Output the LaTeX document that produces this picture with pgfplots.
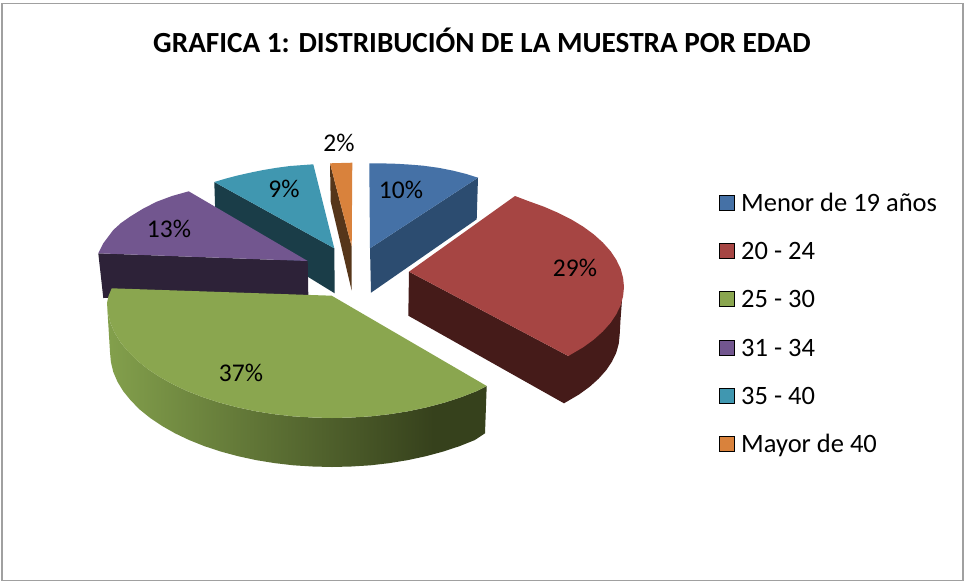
\documentclass[border=0pt]{standalone}
\usepackage{pgfplots}
\pgfplotsset{compat=1.18}
\usepackage{fontspec}
\setmainfont{Carlito}
\definecolor{cBlue}{HTML}{4571A6}
\definecolor{cBlueS}{HTML}{2C4C70}
\definecolor{cRed}{HTML}{A64543}
\definecolor{cRedS}{HTML}{451B19}
\definecolor{cGreen}{HTML}{8AA64F}
\definecolor{cGreenD}{HTML}{36411C}
\definecolor{cGreenL}{HTML}{83A04C}
\definecolor{cPurple}{HTML}{72568F}
\definecolor{cPurpleS}{HTML}{2D2238}
\definecolor{cTeal}{HTML}{4097B0}
\definecolor{cTealS}{HTML}{1A3D48}
\definecolor{cOrange}{HTML}{D9823C}
\definecolor{cOrangeS}{HTML}{56361A}
\definecolor{cFrame}{HTML}{A0A0A0}
\pgfdeclarehorizontalshading{greenside}{100bp}{color(0bp)=(cGreenL);color(25bp)=(cGreenL);color(68bp)=(cGreenD);color(100bp)=(cGreenD)}
\begin{document}
\begin{tikzpicture}
\begin{axis}[
  width=964pt,height=582pt,scale only axis,
  xmin=0,xmax=964,ymin=0,ymax=582,y dir=reverse,
  axis lines=none,clip=false,
  tick=none,
]
% frame
\addplot[draw=none,fill=white,forget plot] coordinates {(0,0)(964,0)(964,582)(0,582)} -- cycle;
\addplot[draw=cFrame,line width=1.5pt,forget plot] coordinates {(2,3.3)(963,3.3)(963,580.5)(2,580.5)} -- cycle;
% teal
\addplot[draw=none,fill=cTealS] coordinates {(214.3,182)(334.3,248.3)(334.7,293.3)(215.5,220)} -- cycle;
\addplot[draw=none,fill=cTeal] coordinates {(214.3,182)(225,178.8)(236.7,175.7)(250,172.7)(263.3,170)(276.5,167.8)(290,166)(313.3,164.3)(334.3,248.3)} -- cycle;
% purple
\addplot[draw=none,fill=cPurpleS] coordinates {(98.3,253.3)(307.7,261)(308.3,295)(103.3,298)} -- cycle;
\addplot[draw=none,fill=cPurple] coordinates {(98.3,253.3)(103.3,243.3)(113.3,230)(121,223)(130,216.7)(143,208.7)(156.7,201.7)(172,196)(188.7,191.3)(307.7,261)} -- cycle;
% orange
\addplot[draw=none,fill=cOrangeS] coordinates {(330,163.3)(351.7,246.7)(351.7,290.7)(330.7,201.7)} -- cycle;
\addplot[draw=none,fill=cOrange] coordinates {(330,163.3)(352.3,162.7)(351.7,246.7)} -- cycle;
% blue
\addplot[draw=none,fill=cBlueS] coordinates {(370,248.3)(478,177.7)(476.7,219.3)(371,292.7)} -- cycle;
\addplot[draw=none,fill=cBlue] coordinates {(369.3,163.3)(383,163.4)(397,163.8)(410,164.6)(423.3,165.7)(438.5,167.8)(453.3,170.7)(466,173.9)(478,177.7)(370,248.3)} -- cycle;
% red
\addplot[draw=none,fill=cRedS] coordinates {(409,271.7)(568.3,356)(622,300)(620.5,320)(619.7,334.3)(618.8,343.5)(616.3,352.6)(612,361.5)(606.2,370.2)(598.6,378.7)(589.6,386.8)(579,394.5)(564,403.3)(408.3,315.7)} -- cycle;
\addplot[draw=none,fill=cRed] coordinates {(409,271.7)(515,196)(528.1,201)(543.7,206.6)(558.1,212.8)(571.4,219.5)(583.3,226.7)(593.9,234.5)(602.9,242.6)(610.5,251.1)(616.3,259.8)(620.6,268.7)(623.1,277.9)(624,287)(623.1,296.2)(620.6,305.3)(616.3,314.2)(610.5,322.9)(602.9,331.4)(593.9,339.5)(583.3,347.2)(568.3,356)} -- cycle;
% green
\addplot[draw=none,shade,shading=greenside] coordinates {(486.7,386)(476.7,391.1)(461.1,397.2)(444.5,402.6)(427.1,407.2)(409,411.1)(390.3,414.1)(371.1,416.3)(351.6,417.5)(332,418)(312.4,417.5)(292.9,416.3)(273.7,414.1)(255,411.1)(236.9,407.2)(219.5,402.6)(202.9,397.2)(187.3,391.1)(172.9,384.3)(159.7,376.9)(147.7,369)(137.2,360.5)(128.1,351.6)(120.5,342.3)(114.7,332.8)(110.4,323)(107.9,313)(107,303)(110,352)(110.9,362)(113.3,372)(117.5,381.8)(123.3,391.3)(130.9,400.6)(139.7,409.5)(150.2,418)(162,425.9)(175,433.3)(189.3,440.1)(204.6,446.2)(221,451.6)(238.1,456.2)(256.1,460.1)(274.5,463.1)(293.4,465.3)(312.7,466.5)(332,467)(351.3,466.5)(370.6,465.3)(389.5,463.1)(407.9,460.1)(425.9,456.2)(443,451.6)(459.4,446.2)(474.7,440.1)(485,433.3)} -- cycle;
\addplot[draw=none,fill=cGreen] coordinates {(331.7,295.7)(486.7,386)(476.7,391.1)(461.1,397.2)(444.5,402.6)(427.1,407.2)(409,411.1)(390.3,414.1)(371.1,416.3)(351.6,417.5)(332,418)(312.4,417.5)(292.9,416.3)(273.7,414.1)(255,411.1)(236.9,407.2)(219.5,402.6)(202.9,397.2)(187.3,391.1)(172.9,384.3)(159.7,376.9)(147.7,369)(137.2,360.5)(128.1,351.6)(120.5,342.3)(114.7,332.8)(110.4,323)(107.9,313)(107,303)(108.5,296)(111.7,288.3)} -- cycle;
% legend swatches
\addplot[only marks,mark=square*,mark size=7.5pt,mark options={draw=none,fill=cBlue}] coordinates {(726.5,202.5)};
\addplot[only marks,mark=square*,mark size=7.5pt,mark options={draw=none,fill=cRed}] coordinates {(726.5,250.5)};
\addplot[only marks,mark=square*,mark size=7.5pt,mark options={draw=none,fill=cGreen}] coordinates {(726.5,298.5)};
\addplot[only marks,mark=square*,mark size=7.5pt,mark options={draw=none,fill=cPurple}] coordinates {(726.5,347.5)};
\addplot[only marks,mark=square*,mark size=7.5pt,mark options={draw=none,fill=cTeal}] coordinates {(726.5,395.5)};
\addplot[only marks,mark=square*,mark size=7.5pt,mark options={draw=none,fill=cOrange}] coordinates {(726.5,443.5)};
% legend text
\def\lf{\fontsize{26.5}{30}\selectfont}
\node[anchor=base west,inner sep=0pt] at (axis cs:741,211) {\lf Menor de 19 años};
\node[anchor=base west,inner sep=0pt] at (axis cs:741,259) {\lf 20 - 24};
\node[anchor=base west,inner sep=0pt] at (axis cs:741,307) {\lf 25 - 30};
\node[anchor=base west,inner sep=0pt] at (axis cs:741,356) {\lf 31 - 34};
\node[anchor=base west,inner sep=0pt] at (axis cs:741,404) {\lf 35 - 40};
\node[anchor=base west,inner sep=0pt] at (axis cs:741,452) {\lf Mayor de 40};
% slice labels
\def\pf{\fontsize{25.5}{30}\selectfont}
\node[anchor=base,inner sep=0pt] at (axis cs:401,198) {\pf 10\%};
\node[anchor=base,inner sep=0pt] at (axis cs:575,276) {\pf 29\%};
\node[anchor=base,inner sep=0pt] at (axis cs:241,381) {\pf 37\%};
\node[anchor=base,inner sep=0pt] at (axis cs:169,237) {\pf 13\%};
\node[anchor=base,inner sep=0pt] at (axis cs:284,197) {\pf 9\%};
\node[anchor=base,inner sep=0pt] at (axis cs:339,151) {\pf 2\%};
% title
\node[anchor=base,inner sep=0pt] at (axis cs:482,52) {\fontsize{29.2}{32}\selectfont\bfseries GRAFICA 1: DISTRIBUCIÓN DE LA MUESTRA POR EDAD};
\end{axis}
\end{tikzpicture}
\end{document}
